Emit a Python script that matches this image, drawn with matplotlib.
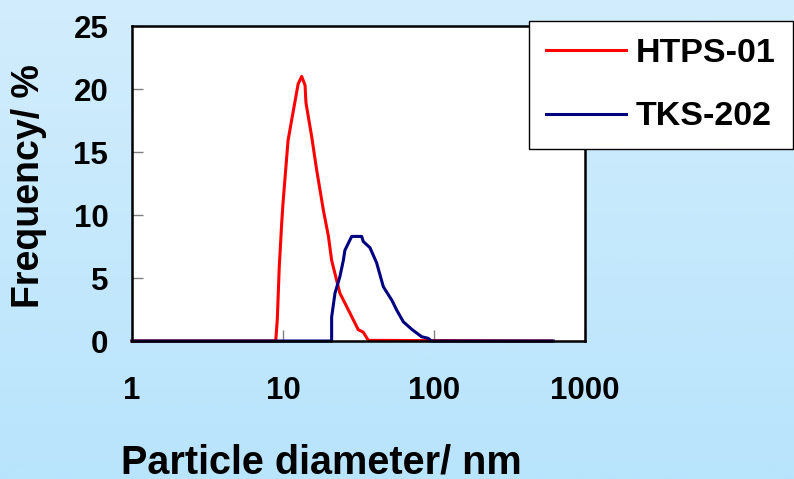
import numpy as np
import matplotlib.pyplot as plt
from matplotlib.colors import LinearSegmentedColormap

# particle size distributions
htps_d = [1, 8.95, 9.17, 9.45, 9.8, 10.0, 10.2, 10.8, 11.4, 12.3, 12.6, 13.3,
          14.0, 14.2, 15.5, 16.7, 18.5, 20.0, 21.0, 23.8, 27.8, 31.5, 34.0, 36.7, 600]
htps_f = [0, 0, 1.7, 5.9, 9.3, 10.9, 12.2, 15.9, 17.5, 19.7, 20.4, 21.0,
          20.3, 18.9, 16.2, 13.6, 10.4, 8.3, 6.4, 3.8, 2.2, 0.9, 0.7, 0.05, 0]

tks_d = [1, 21.0, 21.0, 22.1, 23.8, 25.1, 25.7, 28.5, 33.2, 34.0, 37.7, 41.7,
         46.2, 52.5, 56.6, 62.6, 71.2, 82.8, 91.7, 96.0, 616]
tks_f = [0, 0, 1.9, 3.8, 5.1, 6.4, 7.2, 8.3, 8.3, 7.9, 7.4, 6.2,
         4.3, 3.25, 2.46, 1.53, 0.93, 0.34, 0.21, 0, 0]

plt.rcParams['font.family'] = ['Liberation Sans', 'DejaVu Sans']
plt.rcParams['font.weight'] = 'bold'

fig = plt.figure(figsize=(7.94, 4.79), dpi=100)

# light blue gradient background
bg = fig.add_axes([0, 0, 1, 1], zorder=-10)
cmap = LinearSegmentedColormap.from_list('bg', ['#b8e4fc', '#d2edfc'])
bg.imshow(np.linspace(0, 1, 256).reshape(-1, 1), aspect='auto', cmap=cmap,
          origin='lower', extent=[0, 1, 0, 1])
bg.axis('off')

ax = fig.add_axes([0.1662, 0.2881, 0.5706, 0.6576])
ax.set_facecolor('white')
ax.plot(htps_d, htps_f, color='#ff0000', lw=2.2, label='HTPS-01', clip_on=False)
ax.plot(tks_d, tks_f, color='#000080', lw=2.2, label='TKS-202', clip_on=False)

ax.set_xscale('log')
ax.set_xlim(1, 1000)
ax.set_ylim(0, 25)
ax.set_xticks([1, 10, 100, 1000])
ax.set_xticklabels(['1', '10', '100', '1000'])
ax.set_yticks([0, 5, 10, 15, 20, 25])
ax.minorticks_off()
ax.tick_params(axis='both', direction='in', length=8, width=1, color='#808080',
               labelsize=22.5)
ax.tick_params(axis='y', pad=17)
ax.tick_params(axis='x', pad=25)
for lab in ax.get_xticklabels() + ax.get_yticklabels():
    lab.set_fontweight('bold')
for s in ax.spines.values():
    s.set_linewidth(1.8)
    s.set_color('black')

fig.text(321 / 794, 5 / 479, 'Particle diameter/ nm', fontsize=28.5,
         fontweight='bold', ha='center', va='baseline')
fig.text(29 / 794, 1 - 186.5 / 479, 'Frequency/ %', fontsize=27,
         fontweight='bold', ha='center', va='center', rotation=90)

leg = fig.legend(loc='upper right', bbox_to_anchor=(0.9987, 0.956),
                 borderaxespad=0, frameon=True, fancybox=False,
                 handlelength=2.35, handletextpad=0.3, labelspacing=0.95,
                 borderpad=0.5, prop={'weight': 'bold', 'size': 24.5})
leg.get_frame().set_edgecolor('black')
leg.get_frame().set_linewidth(1.0)
leg.get_frame().set_alpha(1)
leg.set_zorder(10)

fig.savefig('out.png', dpi=100)
